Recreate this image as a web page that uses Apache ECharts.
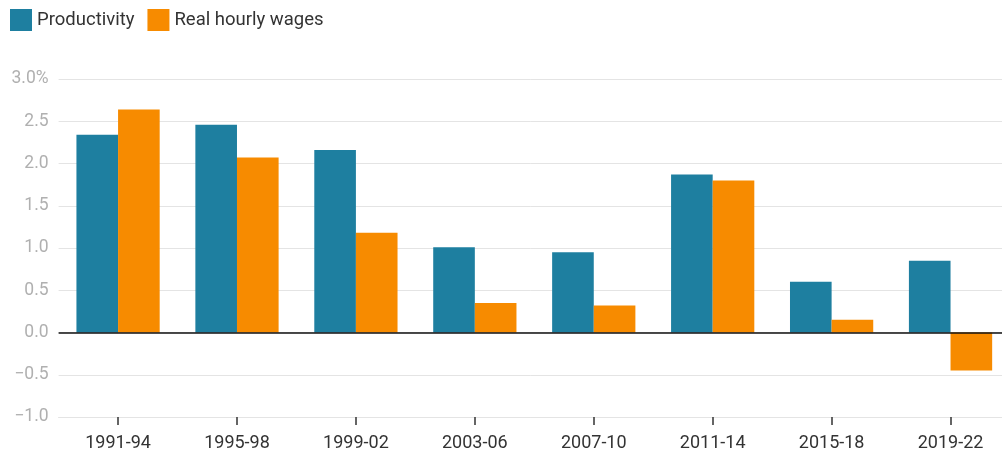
<!DOCTYPE html>
<html>
<head>
<meta charset="utf-8">
<style>
html, body { margin: 0; padding: 0; background: #fff; }
#chart { width: 1002px; height: 455px; }
</style>
<script src="https://cdn.jsdelivr.net/npm/echarts@6/dist/echarts.min.js"></script>
</head>
<body>
<div id="chart"></div>
<script>
var periods = ['1991-94', '1995-98', '1999-02', '2003-06', '2007-10', '2011-14', '2015-18', '2019-22'];
var productivity = [2.34, 2.46, 2.16, 1.01, 0.95, 1.87, 0.60, 0.85];
var realWages = [2.64, 2.07, 1.18, 0.35, 0.32, 1.80, 0.15, -0.45];

var chart = echarts.init(document.getElementById('chart'));
var option = {
    backgroundColor: '#fff',
    animation: false,
    textStyle: { fontFamily: 'Roboto' },
    legend: {
        left: 10,
        top: 9,
        padding: 0,
        itemWidth: 22,
        itemHeight: 22,
        itemGap: 13,
        icon: 'rect',
        textStyle: { fontSize: 18.5, color: '#333', fontFamily: 'Roboto' },
        data: ['Productivity', 'Real hourly wages']
    },
    grid: {
        left: 58.6,
        top: 79,
        right: -8,
        height: 338,
        containLabel: false,
        outerBoundsMode: 'none'
    },
    xAxis: {
        type: 'category',
        data: periods,
        position: 'bottom',
        axisLine: { show: true, onZero: false, lineStyle: { color: '#e4e4e4', width: 1 } },
        axisTick: { show: true, alignWithLabel: true, length: 8, lineStyle: { color: '#333', width: 1.5 } },
        axisLabel: { fontSize: 18, color: '#333', margin: 17, fontFamily: 'Roboto' }
    },
    yAxis: {
        type: 'value',
        min: -1,
        max: 3,
        interval: 0.5,
        axisLine: { show: false },
        axisTick: { show: false },
        splitLine: { lineStyle: { color: '#e4e4e4', width: 1 } },
        axisLabel: {
            fontSize: 17.5,
            color: '#b0b0b0',
            margin: 10,
            fontFamily: 'Roboto',
            formatter: function (v) {
                var s = Math.abs(v).toFixed(1);
                if (v < 0) s = '\u2212' + s;
                if (v === 3) s += '%';
                return s;
            }
        }
    },
    series: [
        {
            name: 'Productivity',
            type: 'bar',
            data: productivity,
            barGap: '0%',
            barCategoryGap: '30%',
            itemStyle: { color: '#1e7fa0' },
            markLine: {
                silent: true,
                symbol: 'none',
                label: { show: false },
                lineStyle: { color: '#111', width: 1.5, type: 'solid' },
                data: [{ yAxis: 0 }]
            }
        },
        {
            name: 'Real hourly wages',
            type: 'bar',
            data: realWages,
            barGap: '0%',
            barCategoryGap: '30%',
            itemStyle: { color: '#f78b00' }
        }
    ]
};
chart.setOption(option);
</script>
</body>
</html>
